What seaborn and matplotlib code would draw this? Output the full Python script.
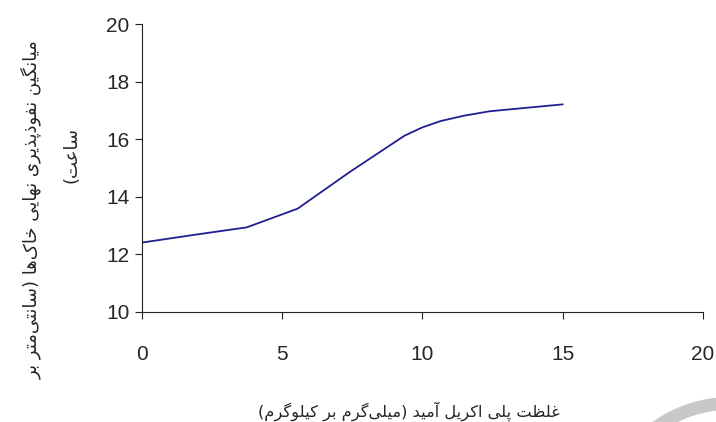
import matplotlib
matplotlib.use('Agg')
import matplotlib.pyplot as plt
from matplotlib.patches import Wedge
import seaborn as sns
import pandas as pd

# data
conc = [0, 1.87, 3.74, 5.55, 7.4, 9.36, 10.0, 10.65, 11.5, 12.4, 13.7, 15]
infil = [12.41, 12.68, 12.94, 13.59, 14.86, 16.13, 16.42, 16.64, 16.83, 16.98, 17.1, 17.22]
x_ticks = [0, 5, 10, 15, 20]
y_ticks = [10, 12, 14, 16, 18, 20]

x_label = "غلظت پلی اکریل آمید (میلی\u200cگرم بر کیلوگرم)"
y_label_1 = "میانگین نفوذپذیری نهایی خاک\u200cها (سانتی\u200cمتر بر"
y_label_2 = "ساعت)"

# matplotlib has no arabic shaping, so pick presentation forms by hand
# (isolated, final, initial, medial)
FORMS = {
    'ا': ('\uFE8D', '\uFE8E', None, None),
    'آ': ('\uFE81', '\uFE82', None, None),
    'ب': ('\uFE8F', '\uFE90', '\uFE91', '\uFE92'),
    'پ': ('\uFB56', '\uFB57', '\uFB58', '\uFB59'),
    'ت': ('\uFE95', '\uFE96', '\uFE97', '\uFE98'),
    'خ': ('\uFEA5', '\uFEA6', '\uFEA7', '\uFEA8'),
    'د': ('\uFEA9', '\uFEAA', None, None),
    'ذ': ('\uFEAB', '\uFEAC', None, None),
    'ر': ('\uFEAD', '\uFEAE', None, None),
    'س': ('\uFEB1', '\uFEB2', '\uFEB3', '\uFEB4'),
    'ظ': ('\uFEC5', '\uFEC6', '\uFEC7', '\uFEC8'),
    'ع': ('\uFEC9', '\uFECA', '\uFECB', '\uFECC'),
    'غ': ('\uFECD', '\uFECE', '\uFECF', '\uFED0'),
    'ف': ('\uFED1', '\uFED2', '\uFED3', '\uFED4'),
    'ک': ('\uFB8E', '\uFB8F', '\uFB90', '\uFB91'),
    'گ': ('\uFB92', '\uFB93', '\uFB94', '\uFB95'),
    'ل': ('\uFEDD', '\uFEDE', '\uFEDF', '\uFEE0'),
    'م': ('\uFEE1', '\uFEE2', '\uFEE3', '\uFEE4'),
    'ن': ('\uFEE5', '\uFEE6', '\uFEE7', '\uFEE8'),
    'ه': ('\uFEE9', '\uFEEA', '\uFEEB', '\uFEEC'),
    'و': ('\uFEED', '\uFEEE', None, None),
    'ی': ('\uFBFC', '\uFBFD', '\uFBFE', '\uFBFF'),
}


def farsi(text):
    out = []
    for i, c in enumerate(text):
        if c not in FORMS:
            if c != '\u200c':
                out.append(c)
            continue
        prev = text[i - 1] if i > 0 else ''
        nxt = text[i + 1] if i + 1 < len(text) else ''
        join_prev = prev in FORMS and FORMS[prev][2] is not None
        join_next = FORMS[c][2] is not None and nxt in FORMS
        f = FORMS[c]
        if join_prev and join_next:
            out.append(f[3])
        elif join_next:
            out.append(f[2])
        elif join_prev:
            out.append(f[1])
        else:
            out.append(f[0])
    vis = ''.join(reversed(out))
    return vis.translate(str.maketrans('()', ')('))


sns.set_style('ticks')
plt.rcParams['font.family'] = ['Liberation Sans', 'DejaVu Sans']

df = pd.DataFrame({'conc': conc, 'infil': infil})

fig = plt.figure(figsize=(7.16, 4.22), dpi=100)
ax = fig.add_axes([0.198, 0.261, 0.784, 0.681])
sns.lineplot(data=df, x='conc', y='infil', ax=ax, color='#1F1F8F', linewidth=1.3)

ax.set_xlim(0, 20)
ax.set_ylim(10, 20)
ax.set_xticks(x_ticks)
ax.set_yticks(y_ticks)
ax.tick_params(axis='both', labelsize=15, length=5, width=0.8, color='#222222')
ax.tick_params(axis='x', pad=19)
ax.tick_params(axis='y', pad=4)
ax.set_xlabel('')
ax.set_ylabel('')
sns.despine(ax=ax)
for s in ['left', 'bottom']:
    ax.spines[s].set_linewidth(0.8)
    ax.spines[s].set_color('#222222')

fig.text(409 / 716, 1 - 411 / 422, farsi(x_label), family='DejaVu Sans',
         fontsize=11.7, ha='center', va='center')
fig.text(31 / 716, 1 - 210 / 422, farsi(y_label_1), family='DejaVu Sans',
         fontsize=13, ha='center', va='center', rotation=90)
fig.text(72 / 716, 1 - 155 / 422, farsi(y_label_2), family='DejaVu Sans',
         fontsize=13, ha='center', va='center', rotation=90)

# faint grey logo arc in the lower right corner (inch coordinates)
fig.patches.append(Wedge((7.30, -1.08), 1.33, 88, 150, width=0.13,
                         transform=fig.dpi_scale_trans, color='#C8C8C8', lw=0))

fig.savefig('out.png', dpi=100)
